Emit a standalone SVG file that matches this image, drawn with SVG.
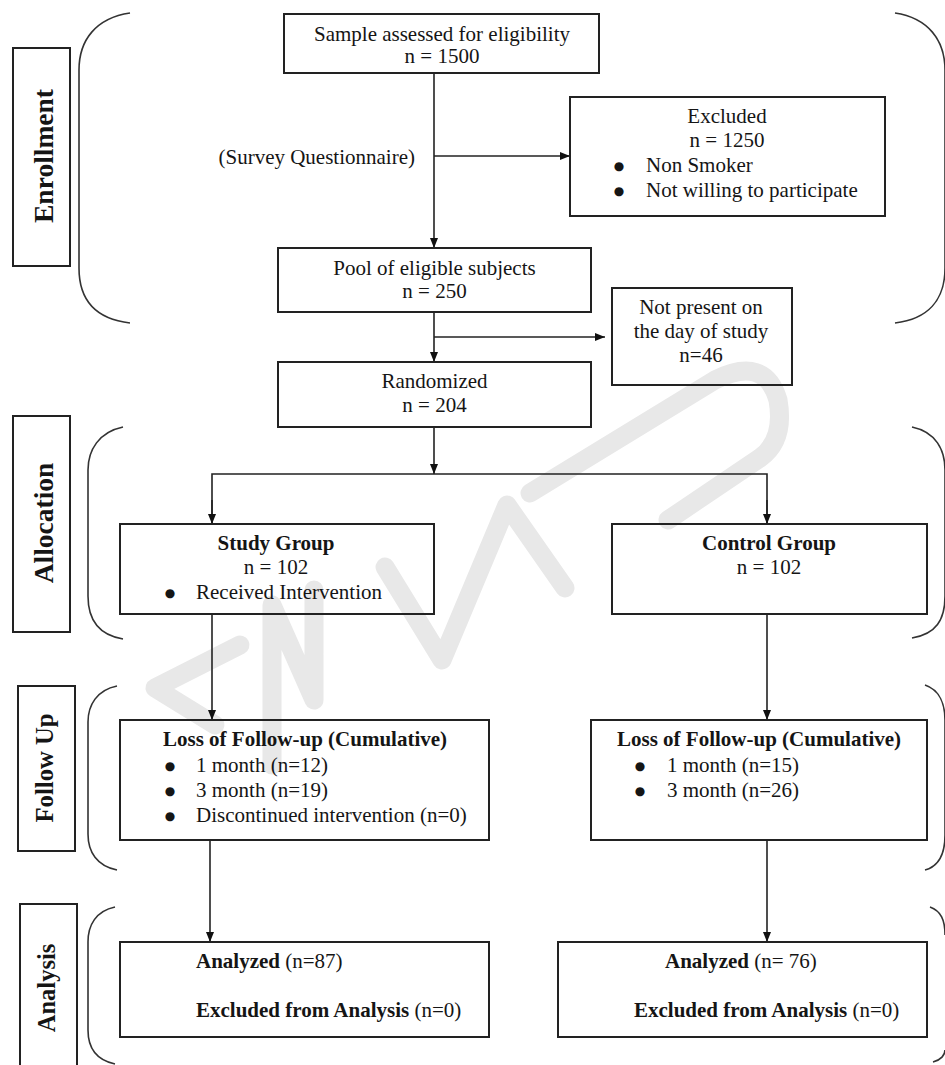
<svg xmlns="http://www.w3.org/2000/svg" width="945" height="1065" viewBox="0 0 945 1065">
<style>
text{font-family:"Liberation Serif","Times New Roman",serif;font-size:21px;fill:#151515}
.c{text-anchor:middle}
.b{font-weight:bold}
.bu{font-family:"DejaVu Sans",sans-serif;font-size:12px;text-anchor:middle}
.box{fill:none;stroke:#222;stroke-width:2}
.ln{fill:none;stroke:#222;stroke-width:1.6}
.br{fill:none;stroke:#333;stroke-width:1.6}
.wm{fill:none;stroke:#e8e8e8;stroke-width:19;stroke-linecap:round;stroke-linejoin:round}
</style>
<defs>
<marker id="ah" markerUnits="userSpaceOnUse" markerWidth="10" markerHeight="10" viewBox="0 0 10 10" refX="10" refY="5" orient="auto">
<path d="M0,1 L10,5 L0,9 Z" fill="#111"/>
</marker>
</defs>
<rect width="945" height="1065" fill="#fff"/>
<g id="watermark">
<path class="wm" d="M240,645 L155,688 L215,725"/>
<path class="wm" d="M272,765 L272,605 L314,700 L314,590"/>
<path class="wm" d="M385,567 L442,660 L507,505 L565,588"/>
<path class="wm" d="M530,493 L715,380 Q765,355 778,400 Q785,440 760,458 L668,520"/>
</g>
<g id="brackets">
<path class="br" d="M130,13 C96,18 79,40 79,70 L79,268 C79,300 96,319 130,323"/>
<path class="br" d="M895,13 C928,18 945,40 945,70 L945,268 C945,300 928,319 895,323"/>
<path class="br" d="M123,427 C99,432 88,450 88,470 L88,596 C88,620 99,635 123,639"/>
<path class="br" d="M912,427 C936,432 945,450 945,470 L945,596 C945,620 936,634 912,638"/>
<path class="br" d="M117,686 C97,690 88,705 88,722 L88,834 C88,852 97,866 117,870"/>
<path class="br" d="M925,685 C940,690 945,705 945,720 L945,835 C945,852 940,866 925,870"/>
<path class="br" d="M115,907 C96,911 88,925 88,942 L88,1030 C88,1048 96,1060 115,1064"/>
<path class="br" d="M930,907 C941,911 945,920 945,935"/>
<path class="br" d="M933,1062 C941,1060 945,1055 945,1050"/>
</g>
<g id="label-enrollment">
<rect class="box" x="13" y="48" width="57" height="218"/>
<text class="c b" transform="translate(53,156) rotate(-90)" style="font-size:27.5px">Enrollment</text>
</g>
<g id="label-allocation">
<rect class="box" x="13" y="416" width="57" height="216"/>
<text class="c b" transform="translate(53,523) rotate(-90)" style="font-size:27.5px">Allocation</text>
</g>
<g id="label-followup">
<rect class="box" x="18" y="686" width="57" height="165"/>
<text class="c b" transform="translate(53,768) rotate(-90)" style="font-size:24.7px">Follow Up</text>
</g>
<g id="label-analysis">
<rect class="box" x="20" y="904" width="57" height="170"/>
<text class="c b" transform="translate(55,988) rotate(-90)" style="font-size:24.5px">Analysis</text>
</g>
<g id="connectors">
<line class="ln" x1="434" y1="73" x2="434" y2="248" marker-end="url(#ah)"/>
<line class="ln" x1="434" y1="156" x2="570" y2="156" marker-end="url(#ah)"/>
<line class="ln" x1="434" y1="312" x2="434" y2="362" marker-end="url(#ah)"/>
<line class="ln" x1="434" y1="337" x2="605" y2="337" marker-end="url(#ah)"/>
<line class="ln" x1="434" y1="427" x2="434" y2="474" marker-end="url(#ah)"/>
<polyline class="ln" points="212,524 212,474 767,474 767,524"/>
<line class="ln" x1="212" y1="500" x2="212" y2="524" marker-end="url(#ah)"/>
<line class="ln" x1="767" y1="500" x2="767" y2="524" marker-end="url(#ah)"/>
<line class="ln" x1="212" y1="614" x2="212" y2="720" marker-end="url(#ah)"/>
<line class="ln" x1="767" y1="614" x2="767" y2="720" marker-end="url(#ah)"/>
<line class="ln" x1="210" y1="840" x2="210" y2="942" marker-end="url(#ah)"/>
<line class="ln" x1="767" y1="840" x2="767" y2="942" marker-end="url(#ah)"/>
</g>
<g id="n-sample">
<rect class="box" x="284" y="14" width="315" height="59"/>
<text class="c" x="442" y="41">Sample assessed for eligibility</text>
<text class="c" x="442" y="63">n = 1500</text>
</g>
<g id="t-survey">
<text x="415" y="164" style="text-anchor:end">(Survey Questionnaire)</text>
</g>
<g id="n-excluded">
<rect class="box" x="570" y="97" width="315" height="119"/>
<text class="c" x="727" y="123">Excluded</text>
<text class="c" x="727" y="147">n = 1250</text>
<text class="bu" x="619" y="170">●</text><text x="646" y="172">Non Smoker</text>
<text class="bu" x="619" y="195">●</text><text x="646" y="197">Not willing to participate</text>
</g>
<g id="n-pool">
<rect class="box" x="278" y="248" width="313" height="64"/>
<text class="c" x="434.5" y="275">Pool of eligible subjects</text>
<text class="c" x="434.5" y="298">n = 250</text>
</g>
<g id="n-notpresent">
<rect class="box" x="612" y="288" width="180" height="97"/>
<text class="c" x="701" y="314">Not present on</text>
<text class="c" x="701" y="338">the day of study</text>
<text class="c" x="701" y="362">n=46</text>
</g>
<g id="n-randomized">
<rect class="box" x="278" y="362" width="313" height="65"/>
<text class="c" x="434.5" y="388">Randomized</text>
<text class="c" x="434.5" y="412">n = 204</text>
</g>
<g id="n-study">
<rect class="box" x="120" y="524" width="314" height="90"/>
<text class="c b" x="276" y="550">Study Group</text>
<text class="c" x="276" y="574">n = 102</text>
<text class="bu" x="170" y="597">●</text><text x="196" y="599">Received Intervention</text>
</g>
<g id="n-control">
<rect class="box" x="612" y="524" width="315" height="90"/>
<text class="c b" x="769" y="550">Control Group</text>
<text class="c" x="769" y="574">n = 102</text>
</g>
<g id="n-loss-study">
<rect class="box" x="120" y="720" width="369" height="120"/>
<text class="b" x="163" y="746">Loss of Follow-up (Cumulative)</text>
<text class="bu" x="170" y="770">●</text><text x="196" y="772">1 month (n=12)</text>
<text class="bu" x="170" y="795">●</text><text x="196" y="797">3 month (n=19)</text>
<text class="bu" x="170" y="820">●</text><text x="196" y="822">Discontinued intervention (n=0)</text>
</g>
<g id="n-loss-control">
<rect class="box" x="591" y="720" width="336" height="120"/>
<text class="b" x="617" y="746">Loss of Follow-up (Cumulative)</text>
<text class="bu" x="640" y="770">●</text><text x="667" y="772">1 month (n=15)</text>
<text class="bu" x="640" y="795">●</text><text x="667" y="797">3 month (n=26)</text>
</g>
<g id="n-analysis-study">
<rect class="box" x="120" y="942" width="369" height="95"/>
<text x="196" y="968"><tspan class="b">Analyzed</tspan> (n=87)</text>
<text x="196" y="1017"><tspan class="b">Excluded from Analysis</tspan> (n=0)</text>
</g>
<g id="n-analysis-control">
<rect class="box" x="558" y="942" width="369" height="95"/>
<text x="665" y="968"><tspan class="b">Analyzed</tspan> (n= 76)</text>
<text x="634" y="1017"><tspan class="b">Excluded from Analysis</tspan> (n=0)</text>
</g>
</svg>
